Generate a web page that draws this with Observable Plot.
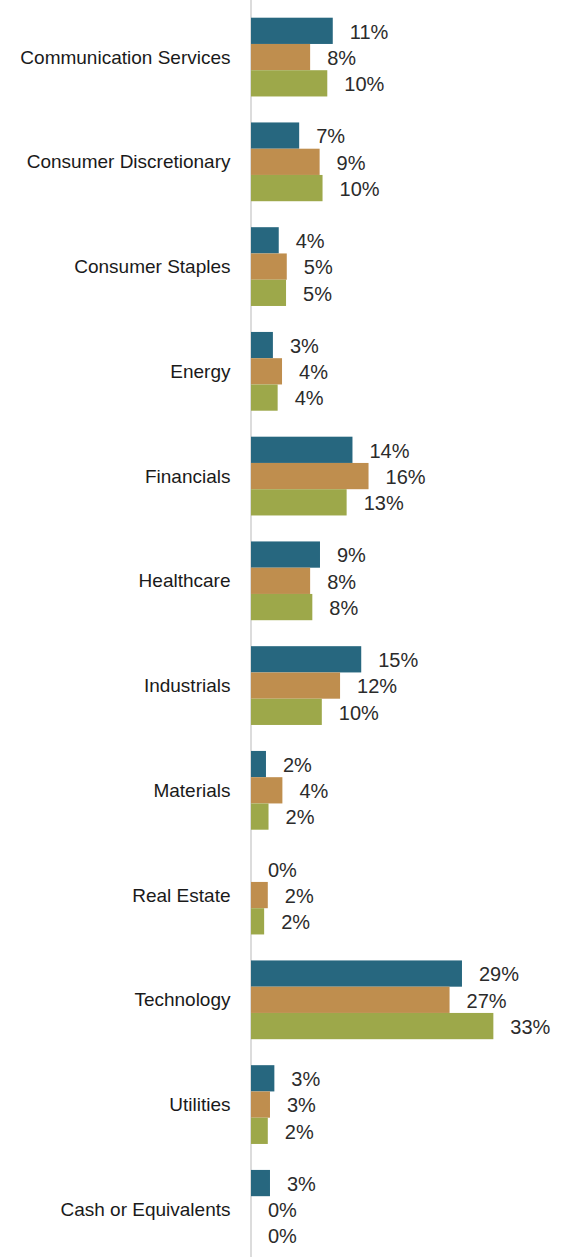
<!DOCTYPE html>
<html>
<head>
<meta charset="utf-8">
<script src="https://cdn.jsdelivr.net/npm/d3@7"></script>
<script src="https://cdn.jsdelivr.net/npm/@observablehq/plot@0.6"></script>
<style>
  html, body { margin: 0; padding: 0; background: #fff; }
  #chart svg { display: block; }
</style>
</head>
<body>
<div id="chart"></div>
<script>
const categories = [
  "Communication Services", "Consumer Discretionary", "Consumer Staples", "Energy",
  "Financials", "Healthcare", "Industrials", "Materials", "Real Estate",
  "Technology", "Utilities", "Cash or Equivalents"
];
const series = ["Series A", "Series B", "Series C"];
const seriesA = [11.2, 6.6, 3.8, 3.0, 13.9, 9.45, 15.1, 2.05, 0, 28.9, 3.2, 2.6];
const seriesB = [8.1, 9.4, 4.9, 4.25, 16.1, 8.1, 12.2, 4.3, 2.3, 27.2, 2.6, 0];
const seriesC = [10.45, 9.8, 4.8, 3.65, 13.1, 8.4, 9.7, 2.4, 1.8, 33.2, 2.3, 0];
const colors = ["#27677F", "#BF8E4E", "#9DA84A"];

const rows = [];
categories.forEach((c, i) => {
  [seriesA, seriesB, seriesC].forEach((arr, j) => {
    rows.push({category: c, series: series[j], value: arr[i]});
  });
});

const chart = Plot.plot({
  width: 569,
  height: 1257,
  marginLeft: 251,
  marginRight: 26,
  marginTop: 17.7,
  marginBottom: 8.3,
  style: {
    fontFamily: "'Liberation Sans', Arial, sans-serif",
    fontSize: "19px",
    color: "#1a1a1a",
    background: "#fff"
  },
  x: {domain: [0, 40], axis: null},
  y: {domain: series, padding: 0, axis: null, round: false},
  fy: {
    domain: categories,
    paddingInner: 0.248,
    paddingOuter: 0,
    round: false,
    label: null,
    tickSize: 0,
    tickPadding: 21,
    axis: "left"
  },
  color: {domain: series, range: colors},
  marks: [
    Plot.ruleX([0], {dx: -0.5, stroke: "#dcdcdc", strokeWidth: 2, insetTop: -20, insetBottom: -20}),
    Plot.barX(rows, {fy: "category", y: "series", x: "value", fill: "series"}),
    Plot.text(rows, {
      fy: "category", y: "series", x: "value",
      text: d => Math.round(d.value) + "%",
      textAnchor: "start", dx: 16.5, dy: 1,
      fontSize: 20, fill: "#2b2b2b",
      fontFamily: "'Liberation Sans', Arial, sans-serif",
      style: "letter-spacing: 1.3px"
    })
  ]
});
document.getElementById("chart").appendChild(chart);
</script>
</body>
</html>
